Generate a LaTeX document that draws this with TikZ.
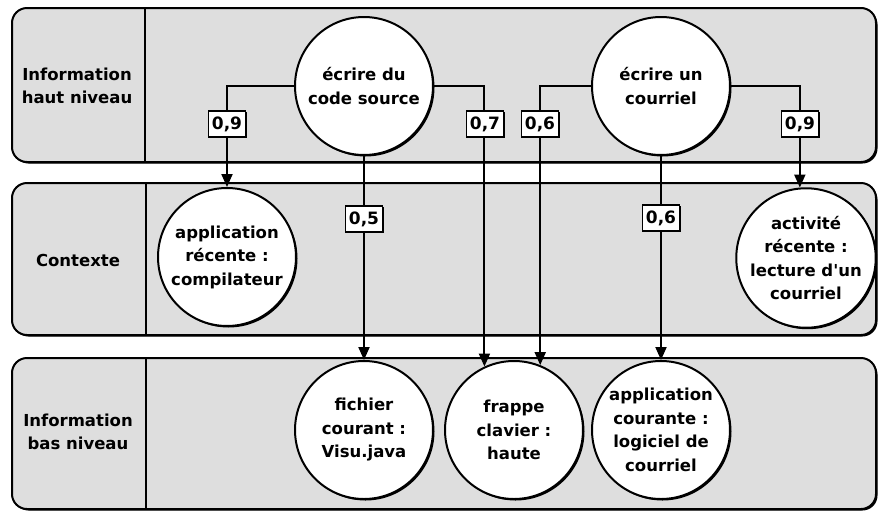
\documentclass[tikz,border=0pt]{standalone}
\usepackage{fontspec}
\setmainfont{DejaVu Sans}[Ligatures=TeXOff]
\usetikzlibrary{arrows.meta,shadows}
\begin{document}
\begin{tikzpicture}[x=1pt,y=-1pt,
  txt/.style={font=\bfseries\fontsize{16.5}{23.5}\selectfont, align=center, inner sep=0pt},
  lane/.style={draw, line width=2pt, rounded corners=15pt, fill=black!13,
    drop shadow={shadow xshift=1.5pt, shadow yshift=-1.5pt, fill=black, opacity=1}},
  divider/.style={line width=2pt},
  bubble/.style={txt, circle, draw, line width=2pt, fill=white, minimum size=138pt,
    drop shadow={shadow xshift=1.5pt, shadow yshift=-1.5pt, fill=black, opacity=1}},
  weight/.style={font=\bfseries\fontsize{17}{20}\selectfont, draw, line width=1.8pt, fill=white,
    inner sep=0pt, minimum width=37pt, minimum height=26pt,
    drop shadow={shadow xshift=1.2pt, shadow yshift=-1.2pt, fill=black, opacity=1}},
  link/.style={line width=2pt, -{Triangle[length=13pt,width=11pt]}}
]
\useasboundingbox (0,0) rectangle (879,512);

% lanes
\draw[lane] (12,8) rectangle (876,162);
\draw[divider] (145,8) -- (145,162);
\draw[lane] (12,183) rectangle (876,335);
\draw[divider] (146,183) -- (146,335);
\draw[lane] (12,358) rectangle (876,509);
\draw[divider] (146,358) -- (146,509);

\node[txt] (lh) at (77,86) {Information\\haut niveau};
\node[txt] (lc) at (78,260) {Contexte};
\node[txt] (lb) at (78,432) {Information\\bas niveau};

% circles
\node[bubble] (cs) at (364,86) {écrire du\\code source};
\node[bubble] (ec) at (661,86) {écrire un\\courriel};
\node[bubble] (ar) at (227,257) {application\\récente :\\compilateur};
\node[bubble] (ac) at (806,258) {activité\\récente :\\lecture d'un\\courriel};
\node[bubble] (fi) at (364,430) {fichier\\courant :\\Visu.java};
\node[bubble] (fc) at (514,430) {frappe\\clavier :\\haute};
\node[bubble] (ap) at (661,430) {application\\courante :\\logiciel de\\courriel};

% connectors
\draw[link] (cs.west) -| (ar.north);
\draw[link] (cs.east) -| (fc.115);
\draw[link] (cs.south) -- (fi.north);
\draw[link] (ec.west) -| (fc.68);
\draw[link] (ec.south) -- (ap.north);
\draw[link] (ec.east) -| (ac.95);

% weights
\node[weight] (w1) at (227,124) {0,9};
\node[weight] (w2) at (485,124) {0,7};
\node[weight] (w3) at (540,124) {0,6};
\node[weight] (w4) at (800,124) {0,9};
\node[weight] (w5) at (364,219) {0,5};
\node[weight] (w6) at (661,218) {0,6};
\end{tikzpicture}
\end{document}
